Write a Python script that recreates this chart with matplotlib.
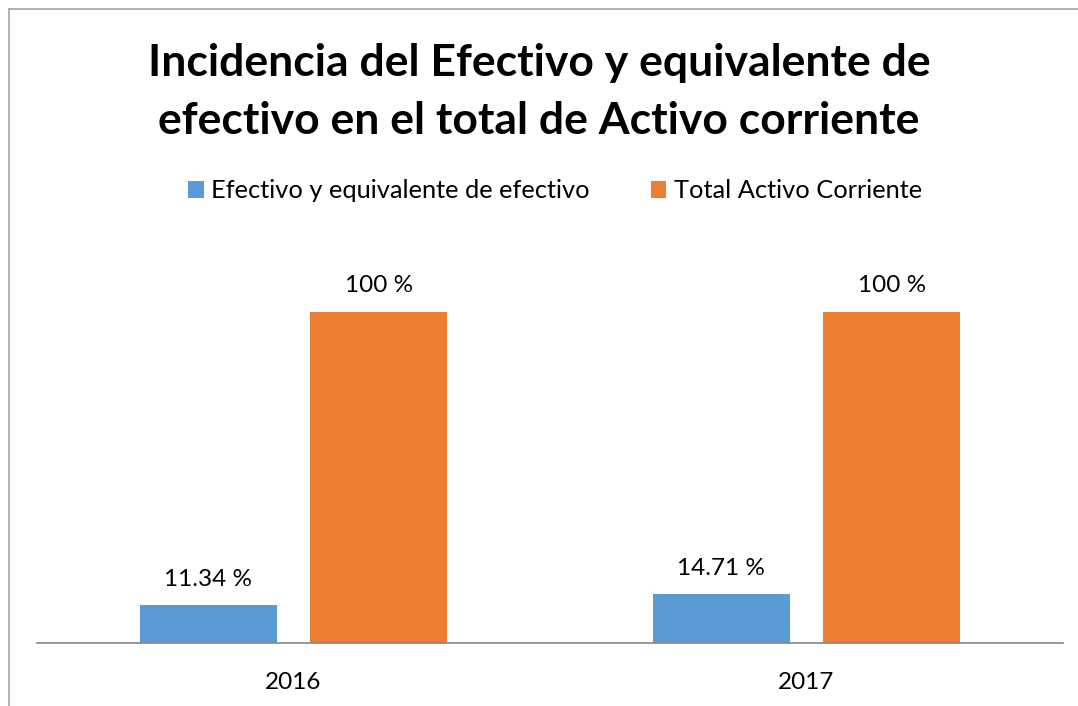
import numpy as np
import matplotlib.pyplot as plt
from matplotlib.lines import Line2D

# -------------------------------------------------
# Data
# -------------------------------------------------

years = ["2016", "2017"]
efectivo = [11.34, 14.71]
total_activo = [100, 100]

efectivo_labels = ["11.34 %", "14.71 %"]
total_labels = ["100 %", "100 %"]

blue = "#5b9bd5"
orange = "#ed7d31"

plt.rcParams["font.family"] = ["Lato", "DejaVu Sans"]

# -------------------------------------------------
# Figure
# -------------------------------------------------

fig = plt.figure(figsize=(10.78, 7.06), dpi=100)
ax = fig.add_axes([37 / 1078, 1 - 643 / 706, 1026 / 1078, (643 - 246) / 706])

x = np.arange(len(years))
w = 0.267
off = 0.1665

b1 = ax.bar(x - off, efectivo, w, color=blue, label="Efectivo y equivalente de efectivo")
b2 = ax.bar(x + off, total_activo, w, color=orange, label="Total Activo Corriente")

ax.bar_label(b1, labels=efectivo_labels, padding=11, fontsize=17.5)
ax.bar_label(b2, labels=total_labels, padding=12, fontsize=17.5)

ax.set_xlim(-0.5, 1.5)
ax.set_ylim(0, 120)
ax.set_xticks(x)
ax.set_xticklabels(years, fontsize=17.5)
ax.tick_params(axis="x", length=0, pad=21)
ax.set_yticks([])

for s in ["top", "right", "left"]:
    ax.spines[s].set_visible(False)
ax.spines["bottom"].set_color("#868686")
ax.spines["bottom"].set_linewidth(1.2)

# Title
fig.text(0.5, 1 - 63 / 706, "Incidencia del Efectivo y equivalente de",
         ha="center", va="center", fontsize=32, fontweight="bold")
fig.text(0.5, 1 - 121 / 706, "efectivo en el total de Activo corriente",
         ha="center", va="center", fontsize=32, fontweight="bold")

# Legend
fig.legend(loc="center", bbox_to_anchor=(0.515, 1 - 191 / 706), ncol=2,
           frameon=False, fontsize=18.3, handlelength=0.6, handleheight=0.6,
           handletextpad=0.3, columnspacing=2.4)

# Outer border (left and top only visible)
fig.add_artist(Line2D([8.5 / 1078, 8.5 / 1078], [0, 1 - 9 / 706],
                      color="#a6a6a6", lw=1.2, transform=fig.transFigure))
fig.add_artist(Line2D([8.5 / 1078, 1], [1 - 9 / 706, 1 - 9 / 706],
                      color="#a6a6a6", lw=1.2, transform=fig.transFigure))

fig.savefig("out.png", dpi=100)
